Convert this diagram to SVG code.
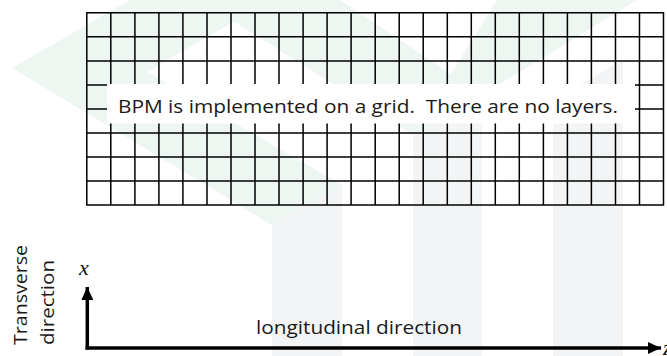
<svg xmlns="http://www.w3.org/2000/svg" width="667" height="356" viewBox="0 0 667 356">
<style>
.wm-g{fill:#edf6f0}
.wm-s{fill:#f3f4f6}
.grid{fill:none;stroke:#000;stroke-width:1.5}
.lbl{font-family:"Open Sans","Liberation Sans",sans-serif;font-size:18.5px;fill:#1a1a1a}
.var{font-family:"Liberation Serif",serif;font-style:italic;font-size:22px;fill:#111}
.axis{stroke:#000;stroke-width:3.5;fill:none}
</style>
<defs>
<marker id="ah" markerUnits="userSpaceOnUse" markerWidth="14" markerHeight="12" refX="13" refY="6" orient="auto">
<path d="M0,0 L13,6 L0,12 Z" fill="#000"/>
</marker>
</defs>
<rect width="667" height="356" fill="#fff"/>
<g id="watermark">
<polygon class="wm-g" points="12,68 130,0 271,0 147,72 342,185 272,225"/>
<polygon class="wm-g" points="200,0 340,0 482,95 413,135"/>
<polygon class="wm-g" points="497,0 637,0 482,95 413,135"/>
<polygon class="wm-s" points="272,225 342,185 342,356 272,356"/>
<polygon class="wm-s" points="413,135 482,95 482,356 413,356"/>
<polygon class="wm-s" points="553,100 623,60 623,356 553,356"/>
</g>
<g id="grid">
<path class="grid" d="M86.8,12.8V205M110.8,12.8V205M134.9,12.8V205M158.9,12.8V205M182.9,12.8V205M207,12.8V205M231,12.8V205M255,12.8V205M279,12.8V205M303.1,12.8V205M327.1,12.8V205M351.1,12.8V205M375.2,12.8V205M399.2,12.8V205M423.2,12.8V205M447.3,12.8V205M471.3,12.8V205M495.3,12.8V205M519.3,12.8V205M543.4,12.8V205M567.4,12.8V205M591.4,12.8V205M615.5,12.8V205M639.5,12.8V205M663.5,12.8V205M86.1,12.8H664.2M86.1,36.8H664.2M86.1,60.9H664.2M86.1,84.9H664.2M86.1,108.9H664.2M86.1,133H664.2M86.1,157H664.2M86.1,181H664.2M86.1,205H664.2"/>
</g>
<g id="note">
<rect x="107" y="84" width="528" height="39.5" fill="#fff"/>
<text class="lbl" x="118" y="113" textLength="500" lengthAdjust="spacingAndGlyphs" xml:space="preserve">BPM is implemented on a grid.  There are no layers.</text>
</g>
<g id="connectors">
<line class="axis" x1="87.3" y1="349.7" x2="87.3" y2="287" marker-end="url(#ah)"/>
<line class="axis" x1="85.6" y1="348" x2="661" y2="348" marker-end="url(#ah)"/>
</g>
<g id="axis-labels">
<text class="lbl" x="27" y="345" transform="rotate(-90 27 345)" textLength="100" lengthAdjust="spacingAndGlyphs">Transverse</text>
<text class="lbl" x="54" y="345" transform="rotate(-90 54 345)" textLength="85" lengthAdjust="spacingAndGlyphs">direction</text>
<text class="var" x="79" y="275">x</text>
<text class="lbl" x="256" y="334" textLength="206" lengthAdjust="spacingAndGlyphs">longitudinal direction</text>
<text class="var" x="663" y="355">z</text>
</g>
</svg>
